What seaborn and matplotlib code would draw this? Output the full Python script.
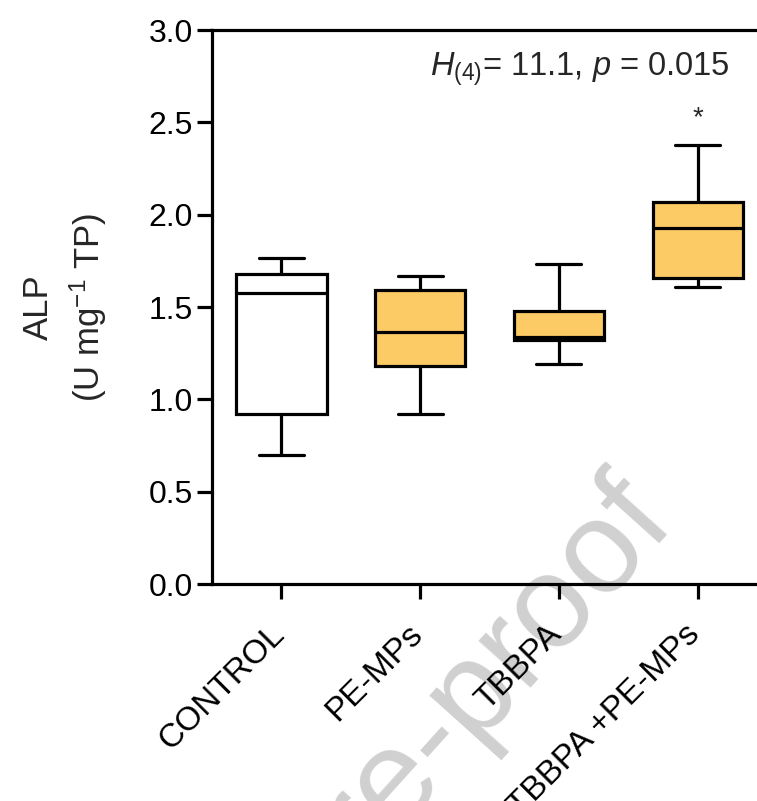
import numpy as np
import pandas as pd
import matplotlib
matplotlib.use("Agg")
import matplotlib.pyplot as plt
import matplotlib.transforms as mtransforms
import seaborn as sns

# five-number summaries (min, Q1, median, Q3, max)
groups = ["CONTROL", "PE-MPs", "TBBPA", "TBBPA +PE-MPs"]
control = [0.70, 0.92, 1.575, 1.68, 1.765]
pe_mps = [0.92, 1.18, 1.365, 1.59, 1.67]
tbbpa = [1.19, 1.32, 1.335, 1.48, 1.735]
tbbpa_pe = [1.61, 1.655, 1.93, 2.07, 2.38]
box_colors = ["white", "#FDCB66", "#FDCB66", "#FDCB66"]

stat_text = r"$H_{\mathit{(4)}}$= 11.1, $p$ = 0.015"
star_group = 3
star_y = 2.52

df = pd.DataFrame({
    "group": np.repeat(groups, 5),
    "ALP": control + pe_mps + tbbpa + tbbpa_pe,
})

sns.set_style("ticks")
plt.rcParams["font.family"] = ["Liberation Sans", "DejaVu Sans"]
plt.rcParams["mathtext.fontset"] = "custom"
plt.rcParams["mathtext.rm"] = "Liberation Sans"
plt.rcParams["mathtext.it"] = "Liberation Sans:italic"

fig = plt.figure(figsize=(7.57, 8.01), dpi=100)
ax = fig.add_axes([0.2801, 0.2709, 0.7332, 0.6916])
ax.patch.set_alpha(0)

sns.boxplot(data=df, x="group", y="ALP", hue="group", order=groups,
            palette=dict(zip(groups, box_colors)), legend=False,
            saturation=1, whis=(0, 100), width=0.65, linecolor="black",
            linewidth=2.3, ax=ax)

ax.set_ylim(0, 3.0)
ax.set_xlim(-0.5, 3.5)
ax.set_yticks(np.arange(0, 3.01, 0.5))
ax.set_yticklabels([f"{v:.1f}" for v in np.arange(0, 3.01, 0.5)])
ax.set_xlabel("")
ax.set_ylabel("ALP\n(U mg$^{-1}$ TP)", fontsize=25, labelpad=28,
              linespacing=1.4)

for s in ax.spines.values():
    s.set_linewidth(2.3)
    s.set_color("black")
ax.tick_params(axis="both", direction="out", length=11, width=2.3,
               colors="black")
ax.tick_params(axis="y", labelsize=23, pad=3)
ax.tick_params(axis="x", labelsize=24, pad=6)
shift = mtransforms.ScaledTranslation(-0.13, -0.11, fig.dpi_scale_trans)
for lab in ax.get_xticklabels():
    lab.set_rotation(45)
    lab.set_ha("right")
    lab.set_va("top")
    lab.set_rotation_mode("anchor")
    lab.set_transform(lab.get_transform() + shift)

ax.text(1.07, 2.79, stat_text, fontsize=23.5, ha="left", va="center")
ax.text(star_group, star_y, "*", fontsize=20, ha="center", va="center")

# journal watermark
fig.text(0.895, 0.345, "Journal Pre-proof", fontsize=95, color="#d0d0d0",
         rotation=48, rotation_mode="anchor", ha="right", va="baseline",
         zorder=-1)

fig.savefig("out.png", dpi=100)
